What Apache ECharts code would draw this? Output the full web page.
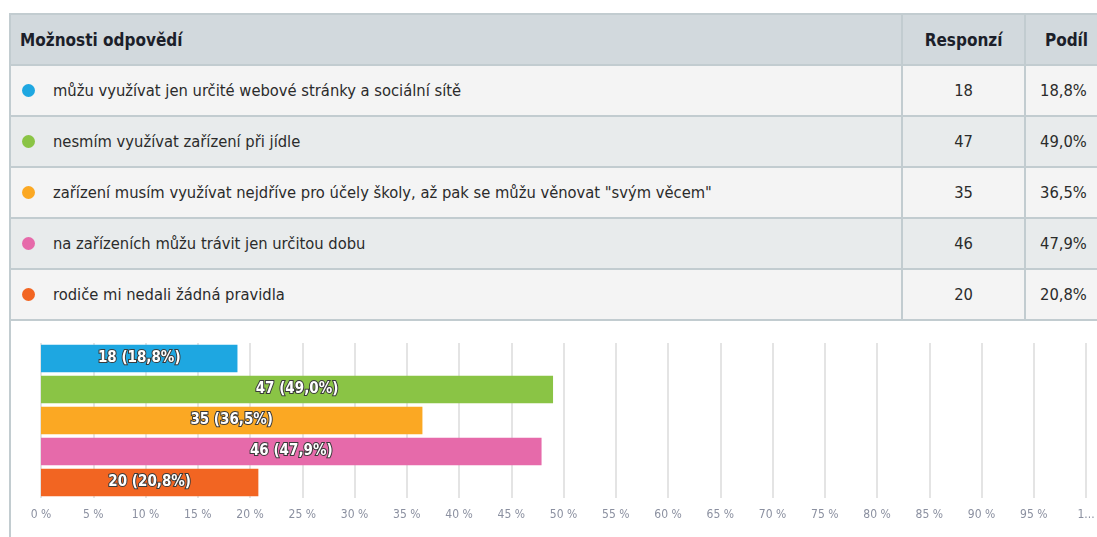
<!DOCTYPE html>
<html>
<head>
<meta charset="utf-8">
<script src="https://cdn.jsdelivr.net/npm/echarts@6/dist/echarts.min.js"></script>
<style>
  html, body { margin: 0; padding: 0; background: #fff; overflow: hidden; width: 1097px; height: 537px; }
  #wrap { position: absolute; left: 9px; top: 13px; width: 1100px; }
  table { border-collapse: collapse; width: 1100px; font-family: "DejaVu Sans Condensed", sans-serif; font-size: 16.4px; color: #2b2b2b; }
  th, td { border: 2px solid #c2ccd0; height: 49px; padding: 0; }
  th { background: #d2d9dd; font-weight: bold; color: #1c1f2a; font-size: 17px; }
  th.opt { text-align: left; padding-left: 9px; }
  td.opt { padding-left: 11px; }
  td.num, th.num { text-align: center; }
  tr.odd td { background: #f4f4f4; }
  tr.even td { background: #e8ebec; }
  .dot { display: inline-block; width: 13px; height: 13px; border-radius: 50%; vertical-align: -1px; margin-right: 18px; }
  #chartBox { position: absolute; left: 9px; top: 321px; width: 1100px; height: 230px; border-left: 2px solid #c2ccd0; background: #fff; }
  #chart { position: absolute; left: 0; top: 1px; width: 1087px; height: 215px; }
</style>
</head>
<body>
<div id="wrap">
  <table id="tbl">
    <colgroup><col style="width:894px"><col style="width:123px"><col style="width:83px"></colgroup>
  </table>
</div>
<div id="chartBox"><div id="chart"></div></div>
<script>
const headers = ['Možnosti odpovědí', 'Responzí', 'Podíl'];
const options = [
  'můžu využívat jen určité webové stránky a sociální sítě',
  'nesmím využívat zařízení při jídle',
  'zařízení musím využívat nejdříve pro účely školy, až pak se můžu věnovat "svým věcem"',
  'na zařízeních můžu trávit jen určitou dobu',
  'rodiče mi nedali žádná pravidla'
];
const responses = [18, 47, 35, 46, 20];
const shares = [18.8, 49.0, 36.5, 47.9, 20.8];
const colors = ['#1ea7e1', '#8ac445', '#fba823', '#e66aaa', '#f26522'];
const xTicks = [0, 5, 10, 15, 20, 25, 30, 35, 40, 45, 50, 55, 60, 65, 70, 75, 80, 85, 90, 95, 100];

function fmt(v) { return v.toFixed(1).replace('.', ','); }

// tabulka
const tbl = document.getElementById('tbl');
let html = '<tr><th class="opt">' + headers[0] + '</th><th class="num">' + headers[1] + '</th><th class="num">' + headers[2] + '</th></tr>';
options.forEach((o, i) => {
  html += '<tr class="' + (i % 2 ? 'even' : 'odd') + '"><td class="opt"><span class="dot" style="background:' + colors[i] + '"></span>' + o +
    '</td><td class="num">' + responses[i] + '</td><td class="num" style="text-align:left;padding-left:14px">' + fmt(shares[i]) + '%</td></tr>';
});
tbl.insertAdjacentHTML('beforeend', html);

// graf
const myChart = echarts.init(document.getElementById('chart'));
const option = {
  animation: false,
  grid: { left: 30, right: 12, top: 21, bottom: 39 },
  xAxis: {
    type: 'value',
    min: xTicks[0],
    max: xTicks[xTicks.length - 1],
    interval: xTicks[1] - xTicks[0],
    axisLine: { show: false },
    axisTick: { show: false },
    splitLine: { show: true, lineStyle: { color: '#e4e4e4', width: 2 } },
    axisLabel: {
      margin: 11,
      color: '#8b90a0',
      fontSize: 12,
      fontFamily: 'DejaVu Sans Condensed, sans-serif',
      formatter: v => (v === 100 ? '1...' : v + ' %')
    }
  },
  yAxis: {
    type: 'category',
    inverse: true,
    data: options,
    axisLine: { show: false },
    axisTick: { show: false },
    axisLabel: { show: false }
  },
  series: [{
    type: 'bar',
    barCategoryGap: '11%',
    data: shares.map((v, i) => ({ value: v, itemStyle: { color: colors[i] } })),
    label: {
      show: true,
      position: 'inside',
      color: '#fff',
      fontWeight: 'bold',
      fontSize: 15,
      fontFamily: 'DejaVu Sans Condensed, sans-serif',
      textBorderColor: '#3a3a3a',
      textBorderWidth: 2,
      formatter: p => responses[p.dataIndex] + ' (' + fmt(p.value) + '%)'
    }
  }]
};
option && myChart.setOption(option);
window.addEventListener('resize', () => { if (myChart) myChart.resize(); });
</script>
</body>
</html>
